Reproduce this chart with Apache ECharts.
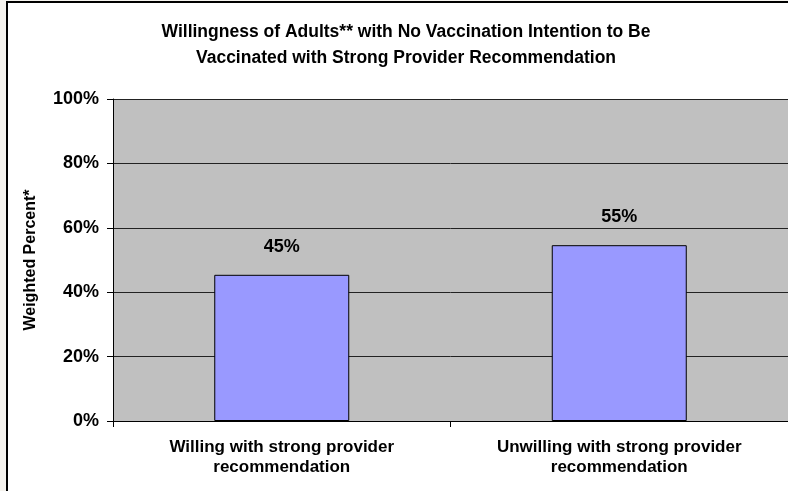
<!DOCTYPE html>
<html>
<head>
<meta charset="utf-8">
<script src="https://cdn.jsdelivr.net/npm/echarts@6/dist/echarts.min.js"></script>
<style>
  html, body { margin: 0; padding: 0; }
  #wrap { position: relative; width: 788px; height: 491px; overflow: hidden; background: #F5F3EE; }
  #frame { position: absolute; left: 6px; top: 1px; width: 800px; height: 520px; background: #fff; border-left: 2px solid #000; border-top: 2px solid #000; }
  #chart { position: absolute; left: 0; top: 0; width: 788px; height: 491px; }
</style>
</head>
<body>
<div id="wrap">
  <div id="frame"></div>
  <div id="chart"></div>
</div>
<script>
const titleText = 'Willingness of Adults** with No Vaccination Intention to Be\nVaccinated with Strong Provider Recommendation';
const categories = ['Willing with strong provider\nrecommendation', 'Unwilling with strong provider\nrecommendation'];
const values = [45.4, 54.6];
const yTicks = [0, 20, 40, 60, 80, 100];
const yAxisName = 'Weighted Percent*';

const font = 'Arial, "Liberation Sans", sans-serif';
const chart = echarts.init(document.getElementById('chart'), null, { renderer: 'canvas' });
chart.setOption({
  backgroundColor: 'transparent',
  animation: false,
  title: {
    text: titleText,
    left: 401,
    top: 14,
    textAlign: 'center',
    textStyle: { fontFamily: font, fontWeight: 'bold', fontSize: 17.5, lineHeight: 26, color: '#000' }
  },
  grid: { left: 113, right: -4, top: 99, bottom: 70, show: true, backgroundColor: '#C0C0C0', borderWidth: 0 },
  xAxis: {
    type: 'category',
    data: categories,
    axisLine: { show: true, lineStyle: { color: '#000', width: 1 } },
    axisTick: { show: true, length: 6, lineStyle: { color: '#000' } },
    axisLabel: { fontFamily: font, fontWeight: 'bold', fontSize: 17, lineHeight: 20, color: '#000', margin: 16 }
  },
  yAxis: {
    type: 'value',
    min: yTicks[0],
    max: yTicks[yTicks.length - 1],
    interval: yTicks[1] - yTicks[0],
    name: yAxisName,
    nameLocation: 'middle',
    nameGap: 74,
    nameTextStyle: { fontFamily: font, fontWeight: 'bold', fontSize: 16, color: '#000' },
    axisLine: { show: true, lineStyle: { color: '#000', width: 1 } },
    axisTick: { show: true, length: 6, lineStyle: { color: '#000' } },
    axisLabel: { formatter: '{value}%', fontFamily: font, fontWeight: 'bold', fontSize: 18, color: '#000', margin: 14 },
    splitLine: { show: true, lineStyle: { color: '#222', width: 1 } }
  },
  series: [{
    type: 'bar',
    data: values,
    barWidth: '40%',
    itemStyle: { color: '#9999FF', borderColor: '#000', borderWidth: 1 },
    label: {
      show: true,
      position: 'top',
      distance: 19,
      formatter: p => Math.round(p.value) + '%',
      fontFamily: font, fontWeight: 'bold', fontSize: 18, color: '#000'
    }
  }]
});
</script>
</body>
</html>
